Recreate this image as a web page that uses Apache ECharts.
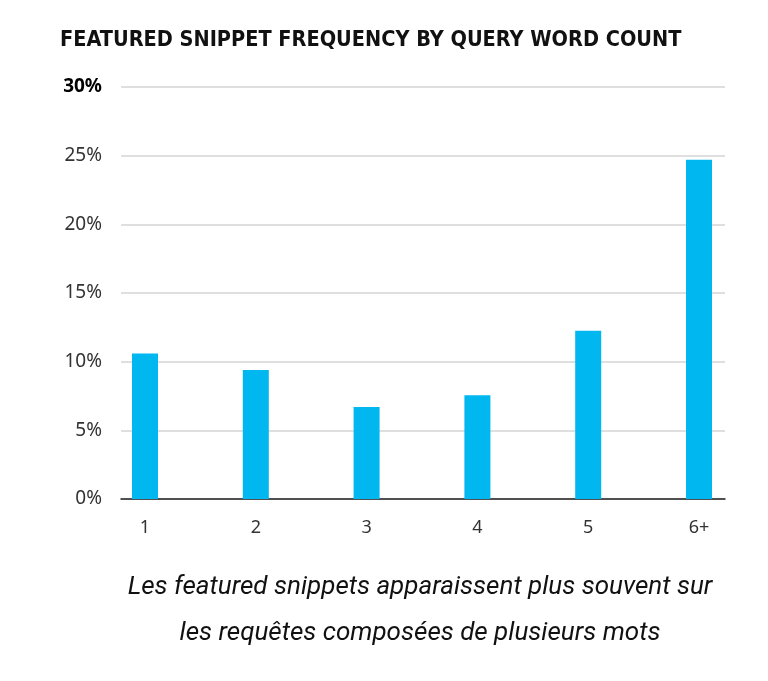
<!DOCTYPE html>
<html><head><meta charset="utf-8">
<script src="https://cdn.jsdelivr.net/npm/echarts@6/dist/echarts.min.js"></script>
<style>html,body{margin:0;padding:0;background:#fff}#c{width:768px;height:681px}</style>
</head><body><div id="c"></div>
<script>
const categories = ['1', '2', '3', '4', '5', '6+'];
const frequency = [10.6, 9.4, 6.7, 7.55, 12.25, 24.7];
const yTicks = [0, 5, 10, 15, 20, 25, 30];
const titleText = 'FEATURED SNIPPET FREQUENCY BY QUERY WORD COUNT';
const captionLines = ['Les featured snippets apparaissent plus souvent sur', 'les requêtes composées de plusieurs mots'];

const chart = echarts.init(document.getElementById('c'));
const yMax = yTicks[yTicks.length - 1];
chart.setOption({
  animation: false,
  title: [{
    text: titleText, left: 55, top: 24,
    textStyle: { fontFamily: 'DejaVu Sans Condensed', fontWeight: 'bold', fontSize: 21.5, color: '#111' }
  }, {
    text: captionLines.join('\n'), left: 415, top: 559, textAlign: 'center',
    textStyle: { fontFamily: 'Roboto', fontStyle: 'italic', fontWeight: 'normal', fontSize: 26, color: '#111', lineHeight: 46 }
  }],
  grid: [
    { left: 145, right: 69, top: 87, bottom: 182 },
    { left: 121, right: 43, top: 87, bottom: 182 }
  ],
  xAxis: [{
    gridIndex: 0, type: 'category', data: categories, boundaryGap: false,
    axisLine: { show: false }, axisTick: { show: false },
    axisLabel: { color: '#333', fontFamily: 'Noto Sans', fontSize: 18, margin: 20 }
  }, {
    gridIndex: 1, type: 'value', min: 0, max: 1, show: true,
    axisLine: { show: true, onZero: false, lineStyle: { color: '#222', width: 1.5 } },
    axisTick: { show: false }, axisLabel: { show: false }, splitLine: { show: false }
  }],
  yAxis: [{
    gridIndex: 0, type: 'value', min: 0, max: yMax, show: false, splitLine: { show: false }
  }, {
    gridIndex: 1, type: 'value', min: 0, max: yMax, interval: 5,
    axisLine: { show: false }, axisTick: { show: false },
    splitLine: { lineStyle: { color: '#d4d4d4', width: 1.5 } },
    axisLabel: {
      margin: 19, fontFamily: 'Noto Sans', fontSize: 19, color: '#333',
      formatter: v => v === yMax ? '{b|' + v + '%}' : v + '%',
      rich: { b: { fontWeight: 'bold', color: '#000', fontFamily: 'Noto Sans', fontSize: 19 } }
    }
  }],
  series: [{
    type: 'bar', xAxisIndex: 0, yAxisIndex: 0, data: frequency,
    barWidth: 26, itemStyle: { color: '#00B7EF' }
  }]
});
</script></body></html>
